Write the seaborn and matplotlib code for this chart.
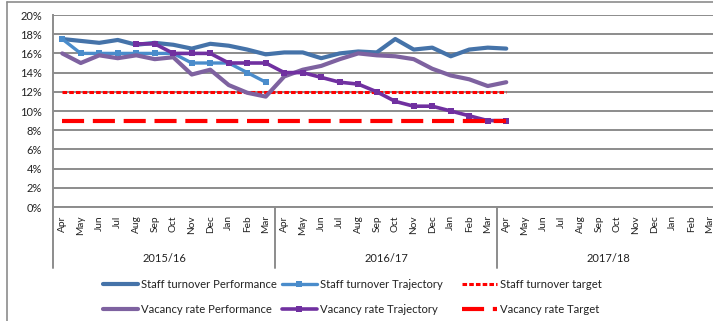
import matplotlib
matplotlib.use("Agg")
import matplotlib.pyplot as plt
from matplotlib.lines import Line2D
import seaborn as sns
import pandas as pd

# Monthly categories grouped by financial year
months = ["Apr", "May", "Jun", "Jul", "Aug", "Sep", "Oct", "Nov", "Dec", "Jan", "Feb", "Mar"]
years = ["2015/16", "2016/17", "2017/18"]

# Percent values, indexed from Apr 2015
staff_perf = [17.5, 17.3, 17.1, 17.4, 16.9, 17.1, 16.9, 16.5, 17.0, 16.8, 16.4, 15.9,
              16.1, 16.1, 15.5, 16.0, 16.2, 16.1, 17.5, 16.4, 16.6, 15.7, 16.4, 16.6, 16.5]
staff_traj = [17.5, 16.0, 16.0, 16.0, 16.0, 16.0, 16.0, 15.0, 15.0, 15.0, 14.0, 13.0]
vac_perf = [16.0, 15.0, 15.8, 15.5, 15.8, 15.4, 15.6, 13.8, 14.3, 12.7, 11.9, 11.5,
            13.6, 14.3, 14.7, 15.4, 16.0, 15.8, 15.7, 15.4, 14.4, 13.7, 13.3, 12.6, 13.0]
vac_traj_start = 4  # trajectory begins in Aug 2015
vac_traj = [17.0, 17.0, 16.0, 16.0, 16.0, 15.0, 15.0, 15.0, 14.0, 14.0, 13.5, 13.0,
            12.8, 12.0, 11.0, 10.5, 10.5, 10.0, 9.5, 9.0, 9.0]
staff_target = 12.0
vac_target = 9.0
target_months = 25  # targets run Apr 2015 - Apr 2017

sns.set_theme(style="white")
plt.rcParams["font.family"] = ["Lato", "DejaVu Sans"]

W, H = 713, 321
fig = plt.figure(figsize=(W / 100, H / 100), dpi=100)
ax = fig.add_axes([53 / W, (H - 207) / H, (719 - 53) / W, (207 - 15) / H])

c_staff_perf = "#4573A9"
c_staff_traj = "#4A8CCB"
c_vac_perf = "#7E62A0"
c_vac_traj = "#7030A0"
c_target = "#FF0000"

def series(values, start=0):
    return pd.DataFrame({"x": range(start, start + len(values)), "y": values})

d = series(staff_perf)
sns.lineplot(data=d, x="x", y="y", ax=ax, color=c_staff_perf, lw=3.0,
             label="Staff turnover Performance", solid_joinstyle="round", solid_capstyle="round")
d = series(staff_traj)
sns.lineplot(data=d, x="x", y="y", ax=ax, color=c_staff_traj, lw=2.4, marker="s", markersize=5,
             markeredgewidth=0, label="Staff turnover Trajectory", solid_joinstyle="round")
d = series([staff_target] * target_months)
sns.lineplot(data=d, x="x", y="y", ax=ax, color=c_target, lw=2.2,
             linestyle=(0, (1.5, 0.7)), label="Staff turnover target")
d = series(vac_perf)
sns.lineplot(data=d, x="x", y="y", ax=ax, color=c_vac_perf, lw=3.0,
             label="Vacancy rate Performance", solid_joinstyle="round", solid_capstyle="round")
d = series(vac_traj, vac_traj_start)
sns.lineplot(data=d, x="x", y="y", ax=ax, color=c_vac_traj, lw=2.6, marker="s", markersize=4,
             markeredgewidth=0, label="Vacancy rate Trajectory", solid_joinstyle="round")
d = series([vac_target] * target_months)
sns.lineplot(data=d, x="x", y="y", ax=ax, color=c_target, lw=3.0,
             linestyle=(0, (5.3, 2.1)), label="Vacancy rate Target")

handles, labels = ax.get_legend_handles_labels()
ax.get_legend().remove()
lookup = dict(zip(labels, handles))

# Axes styling
grid_c = "#8C8C8C"
ax.set_xlim(-0.5, 35.5)
ax.set_ylim(0, 20)
ax.set_yticks(range(0, 21, 2))
ax.set_yticklabels([f"{v}%" for v in range(0, 21, 2)], fontsize=8, color="#222222")
ax.set_xticks(range(36))
ax.set_xticklabels(months * 3, rotation=90, fontsize=7.3, color="#222222", va="top")
ax.tick_params(axis="x", length=0, pad=6)
ax.tick_params(axis="y", length=0, pad=8)
ax.set_xlabel("")
ax.set_ylabel("")
ax.yaxis.grid(True, color=grid_c, lw=1.4)
ax.xaxis.grid(False)
ax.set_axisbelow(True)
for s in ["top", "right"]:
    ax.spines[s].set_visible(False)
for s in ["left", "bottom"]:
    ax.spines[s].set_color(grid_c)
    ax.spines[s].set_linewidth(1.4)

# Financial-year group labels and separators
trans = ax.get_xaxis_transform()
sep_depth = -(268 - 207) / 192
for b in range(0, 37, 12):
    ax.plot([b - 0.5, b - 0.5], [0, sep_depth], transform=trans, color=grid_c,
            lw=1.4, clip_on=False)
for i, yr in enumerate(years):
    ax.text(12 * i + 5.5, -(259 - 207) / 192, yr, transform=trans, ha="center",
            va="center", fontsize=8, color="#222222")

# Legend in three columns of two rows
columns = [
    (103, ["Staff turnover Performance", "Vacancy rate Performance"]),
    (282, ["Staff turnover Trajectory", "Vacancy rate Trajectory"]),
    (462, ["Staff turnover target", "Vacancy rate Target"]),
]
for x0, labs in columns:
    fig.legend([lookup[l] for l in labs], labs, loc="upper left",
               bbox_to_anchor=(x0 / W, 1 - 279 / H), frameon=False, borderpad=0,
               borderaxespad=0, fontsize=8.1, handlelength=3.1, handletextpad=0.3,
               labelspacing=1.25, labelcolor="#222222")

# Chart-area border
fig.add_artist(Line2D([7 / W, 7 / W], [0, 1 - 2 / H], transform=fig.transFigure,
                      color=grid_c, lw=1.2))
fig.add_artist(Line2D([7 / W, 1], [1 - 2 / H, 1 - 2 / H], transform=fig.transFigure,
                      color=grid_c, lw=1.2))

fig.savefig("out.png", dpi=100)
